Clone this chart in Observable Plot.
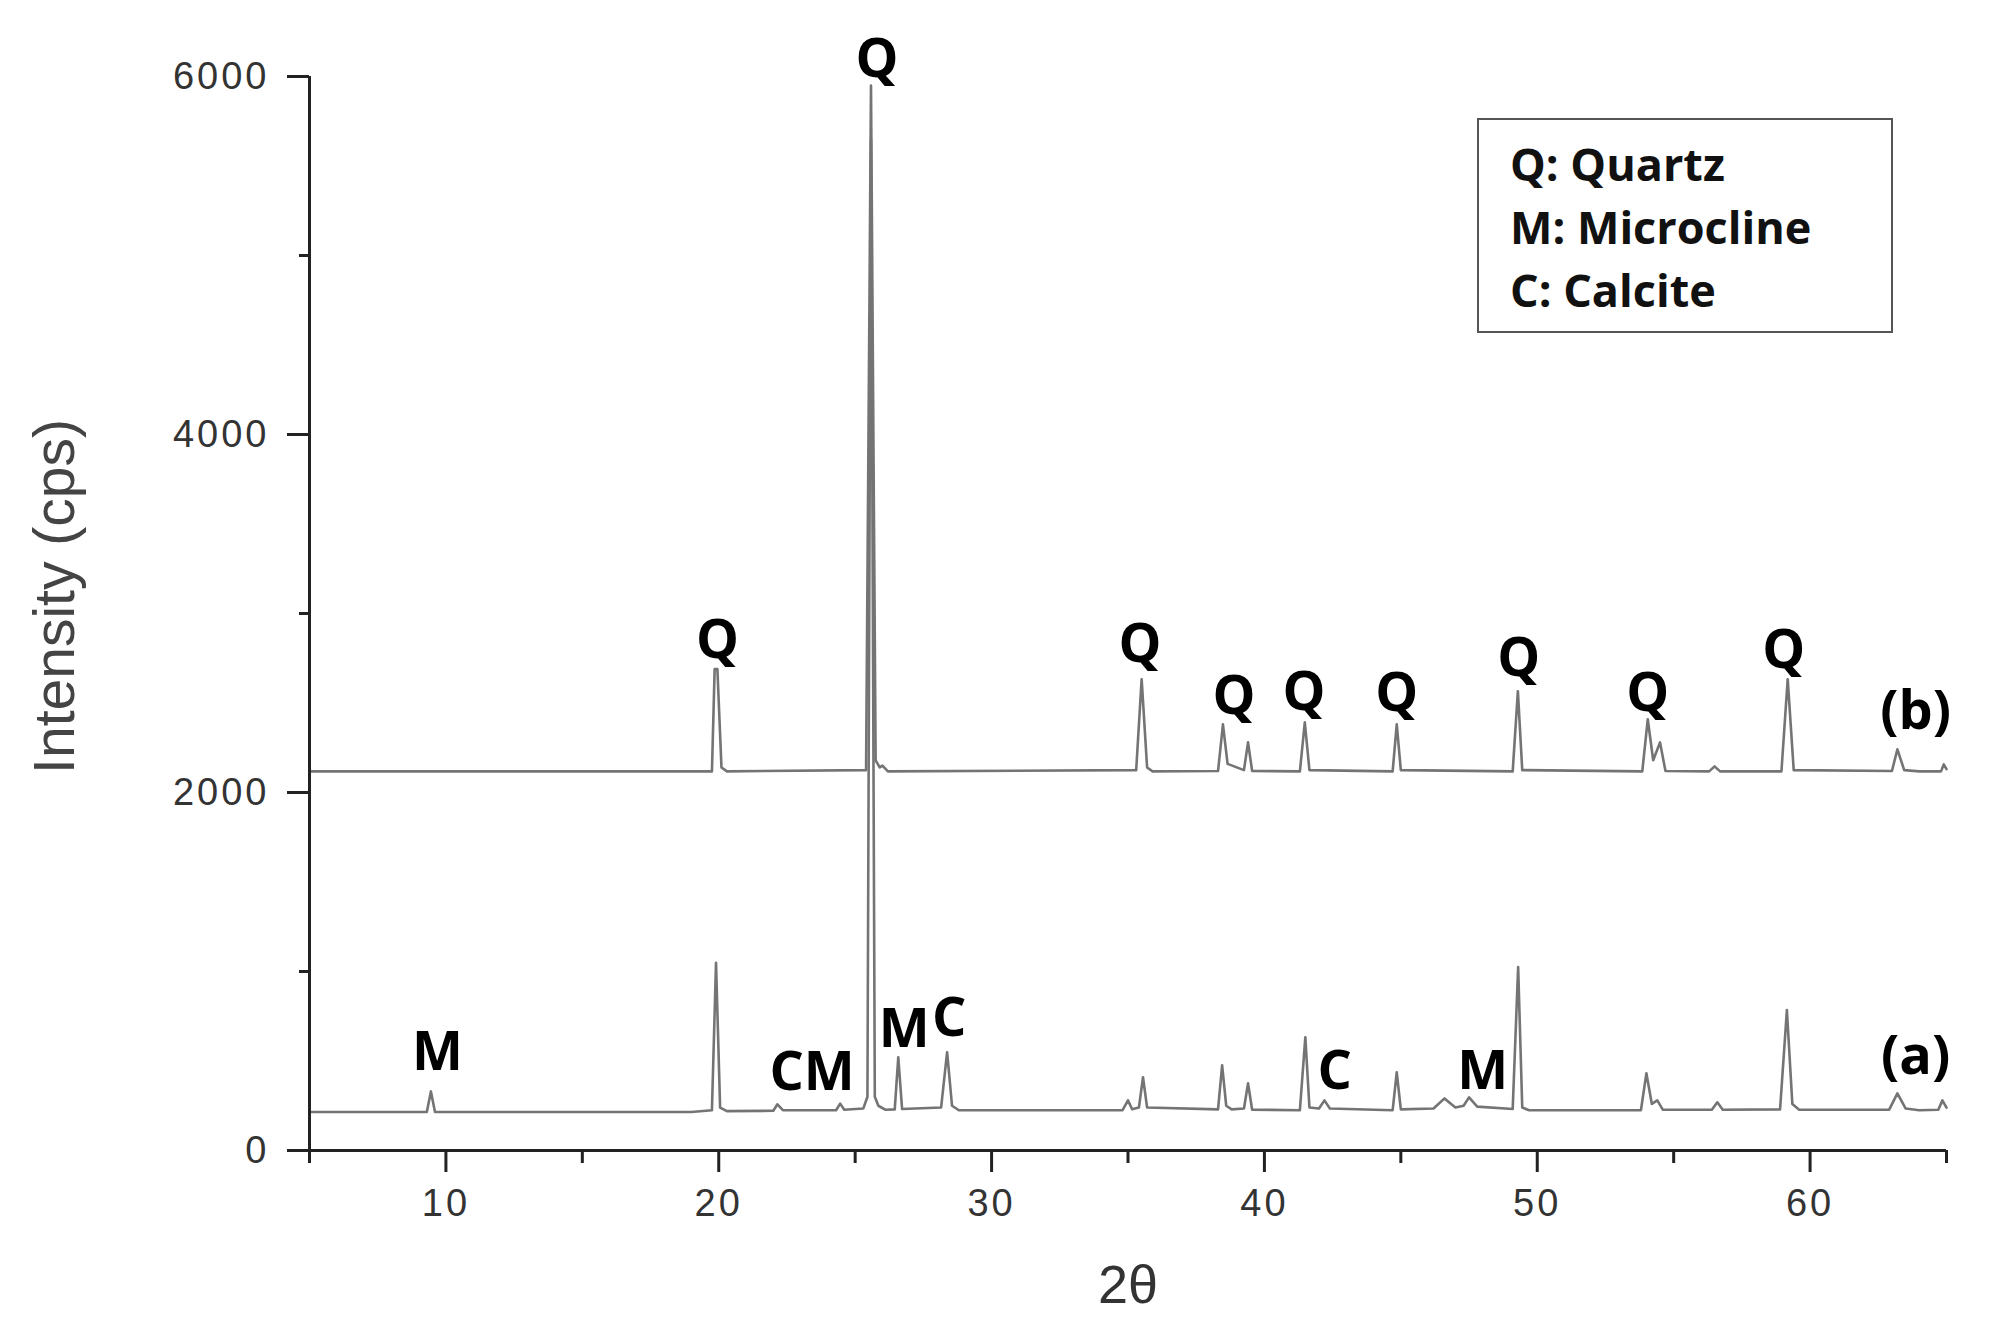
<!DOCTYPE html>
<html>
<head>
<meta charset="utf-8">
<script src="https://cdn.jsdelivr.net/npm/d3@7"></script>
<script src="https://cdn.jsdelivr.net/npm/@observablehq/plot@0.6"></script>
<style>
  html, body { margin: 0; padding: 0; background: #fff; }
  #wrap { position: relative; width: 1992px; height: 1341px; }
  #legend {
    position: absolute; left: 1477px; top: 118px; width: 416px; height: 215px;
    border: 2px solid #555; background: #fff; box-sizing: border-box;
    font-family: "Open Sans", sans-serif; font-weight: 700; font-size: 45px;
    line-height: 63px; color: #111; padding: 12px 0 0 31px;
  }
  svg g[aria-label$="tick label"] text { fill: #333; letter-spacing: 3px; }
</style>
</head>
<body>
<div id="wrap">
  <div id="chart"></div>
  <div id="legend"></div>
</div>
<script>
// ---- data ----
const xDomain = [5, 65];
const yDomain = [0, 6000];
const xMajorTicks = [10, 20, 30, 40, 50, 60];
const xMinorTicks = [5, 15, 25, 35, 45, 55, 65];
const yMajorTicks = [0, 2000, 4000, 6000];
const yMinorTicks = [1000, 3000, 5000];

// pattern (a)
const thetaA = [5.0, 9.3, 9.45, 9.6, 19.0, 19.75, 19.9, 20.05, 20.3, 22.0, 22.15, 22.35, 24.3, 24.45, 24.6,
  25.3, 25.45, 25.58, 25.72, 25.85, 26.1, 26.45, 26.58, 26.72, 28.15, 28.37, 28.55, 28.8,
  34.8, 35.0, 35.15, 35.4, 35.55, 35.7, 38.3, 38.45, 38.6, 38.8, 39.25, 39.4, 39.55,
  41.3, 41.5, 41.65, 42.0, 42.2, 42.4, 44.7, 44.85, 45.0, 46.2, 46.6, 47.0, 47.3, 47.5, 47.8,
  49.1, 49.3, 49.45, 49.7, 53.8, 54.0, 54.2, 54.4, 54.6, 56.4, 56.6, 56.8,
  58.9, 59.15, 59.35, 59.6, 62.9, 63.2, 63.5, 64.0, 64.7, 64.85, 65.0];
const intensityA = [215, 215, 330, 215, 215, 225, 1048, 240, 220, 222, 258, 225, 225, 262, 228,
  235, 300, 5650, 300, 250, 228, 230, 521, 232, 240, 549, 250, 225,
  225, 280, 230, 240, 409, 240, 230, 476, 250, 230, 235, 375, 228,
  225, 633, 240, 235, 280, 235, 225, 437, 230, 235, 291, 240, 250, 297, 245,
  232, 1025, 240, 225, 225, 431, 260, 280, 228, 228, 269, 228,
  230, 784, 260, 228, 228, 319, 235, 225, 228, 280, 240];

// pattern (b)
const thetaB = [5.0, 19.75, 19.85, 19.95, 20.1, 20.3, 25.4, 25.58, 25.75, 25.9, 26.0, 26.2,
  35.3, 35.5, 35.7, 35.9, 38.3, 38.48, 38.65, 39.25, 39.4, 39.55, 41.3, 41.48, 41.65,
  44.7, 44.85, 45.0, 49.1, 49.29, 49.45, 53.85, 54.05, 54.25, 54.5, 54.7, 56.3, 56.5, 56.7,
  58.95, 59.18, 59.4, 63.0, 63.2, 63.45, 64.0, 64.8, 64.9, 65.0];
const intensityB = [2118, 2118, 2690, 2689, 2140, 2118, 2125, 5950, 2180, 2140, 2150, 2118,
  2125, 2633, 2140, 2118, 2120, 2381, 2160, 2125, 2280, 2120, 2118, 2392, 2125,
  2118, 2381, 2125, 2118, 2566, 2125, 2118, 2409, 2180, 2280, 2120, 2118, 2146, 2118,
  2118, 2633, 2125, 2120, 2241, 2125, 2118, 2118, 2157, 2130];

// peak labels
const labelText = ["Q", "Q", "Q", "Q", "Q", "Q", "Q", "Q", "Q", "(b)", "M", "CM", "M", "C", "C", "M", "(a)"];
const labelTheta = [19.95, 25.8, 35.44, 38.88, 41.45, 44.85, 49.32, 54.05, 59.03, 63.87, 9.69, 23.42, 26.8, 28.45, 42.58, 48.0, 63.87];
const labelIntensity = [2849, 6095, 2827, 2536, 2559, 2553, 2749, 2553, 2793, 2453, 547, 436, 676, 737, 441, 441, 525];

const legendLines = ["Q: Quartz", "M: Microcline", "C: Calcite"];
const xTitle = "2θ";
const yTitle = "Intensity (cps)";

// ---- build tables ----
const seriesA = thetaA.map((t, i) => ({t, v: intensityA[i]}));
const seriesB = thetaB.map((t, i) => ({t, v: intensityB[i]}));
const labels = labelText.map((s, i) => ({s, t: labelTheta[i], v: labelIntensity[i]}));

const traceStyle = {x: "t", y: "v", stroke: "#747474", strokeWidth: 2.6, strokeLinejoin: "round"};
const axisColor = "#222";

const chart = Plot.plot({
  width: 1992,
  height: 1341,
  marginLeft: 309,
  marginRight: 46,
  marginTop: 76,
  marginBottom: 191,
  style: {fontFamily: "'Liberation Sans', Arial, sans-serif", background: "#fff", color: axisColor},
  x: {domain: xDomain, label: null},
  y: {domain: yDomain, label: null},
  marks: [
    Plot.line(seriesA, traceStyle),
    Plot.line(seriesB, traceStyle),
    Plot.ruleY([yDomain[0]], {x1: xDomain[0], x2: xDomain[1], stroke: axisColor, strokeWidth: 3}),
    Plot.ruleX([xDomain[0]], {y1: yDomain[0], y2: yDomain[1], stroke: axisColor, strokeWidth: 3}),
    Plot.axisX({ticks: xMajorTicks, tickSize: 22, tickPadding: 17, fontSize: 38, strokeWidth: 3,
      tickFormat: d => String(d), label: null}),
    Plot.axisX({ticks: xMinorTicks, tickSize: 13, strokeWidth: 3, tickFormat: () => "", label: null}),
    Plot.axisY({ticks: yMajorTicks, tickSize: 22, tickPadding: 18, fontSize: 38, strokeWidth: 3,
      tickFormat: d => String(d), label: null}),
    Plot.axisY({ticks: yMinorTicks, tickSize: 10, strokeWidth: 3, tickFormat: () => "", label: null}),
    Plot.text(labels, {x: "t", y: "v", text: "s", fontFamily: "'Open Sans', sans-serif",
      fontWeight: 700, fontSize: 54, fill: "#000"}),
    Plot.text([yTitle], {frameAnchor: "left", dx: -254, dy: -17, rotate: -90, textAnchor: "middle",
      lineAnchor: "middle", fontSize: 57, fill: "#444"}),
    Plot.text([xTitle], {frameAnchor: "bottom", dy: 135, textAnchor: "middle", lineAnchor: "middle",
      fontSize: 54, fill: "#333"})
  ]
});
document.getElementById("chart").appendChild(chart);
document.getElementById("legend").innerHTML = legendLines.map(s => `<div>${s}</div>`).join("");
</script>
</body>
</html>
